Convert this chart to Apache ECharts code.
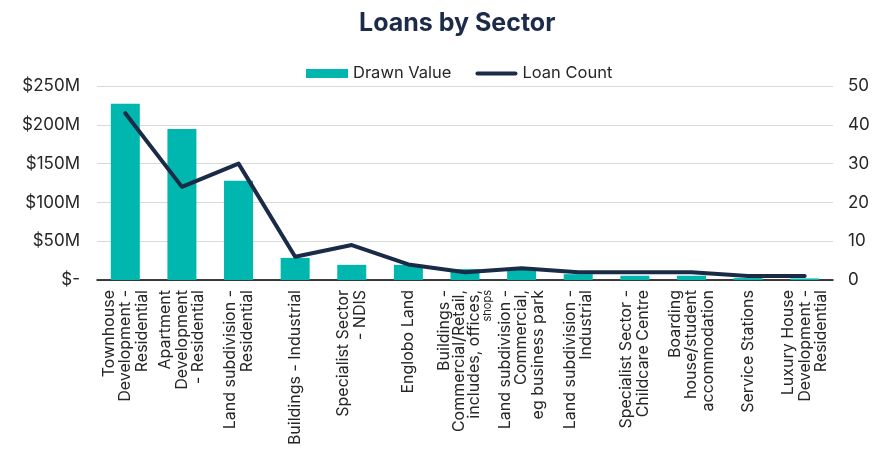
<!DOCTYPE html>
<html>
<head>
<meta charset="UTF-8">
<title>Loans by Sector</title>
<script src="https://cdn.jsdelivr.net/npm/echarts@6/dist/echarts.min.js"></script>
<style>
  html, body { margin: 0; padding: 0; background: #fff; }
  #chart { width: 886px; height: 451px; }
</style>
</head>
<body>
<div id="chart"></div>
<script>
// sector names (line breaks as in the source chart)
var sectors = [
  'Townhouse\nDevelopment -\nResidential',
  'Apartment\nDevelopment\n- Residential',
  'Land subdivision -\nResidential',
  'Buildings - Industrial',
  'Specialist Sector\n- NDIS',
  'Englobo Land',
  'Buildings -\nCommercial/Retail,\nincludes, offices,\nshops',
  'Land subdivision -\nCommercial,\neg business park',
  'Land subdivision -\nIndustrial',
  'Specialist Sector -\nChildcare Centre',
  'Boarding\nhouse/student\naccommodation',
  'Service Stations',
  'Luxury House\nDevelopment -\nResidential'
];
// drawn value, $ millions
var drawnValue = [227, 194.5, 128, 28.5, 19.5, 19.5, 14, 13, 7.5, 5.5, 5.5, 2.5, 2];
// number of loans
var loanCount = [43, 24, 30, 6, 9, 4, 2, 3, 2, 2, 2, 1, 1];

var leftTicks = { min: 0, max: 250, interval: 50 };
var rightTicks = { min: 0, max: 50, interval: 10 };

var FONT = 'Inter, Lato, sans-serif';
var TXT = '#262626';

var myChart = echarts.init(document.getElementById('chart'));
var option = {
  animation: false,
  title: {
    text: 'Loans by Sector',
    left: 354,
    top: 6,
    textStyle: { fontFamily: FONT, fontWeight: 'bold', fontSize: 25, color: '#1c2b4a' }
  },
  legend: {
    top: 60,
    left: 301,
    itemWidth: 42,
    itemHeight: 9,
    itemGap: 24,
    textStyle: { fontFamily: FONT, fontSize: 16.5, color: TXT },
    data: [
      { name: 'Drawn Value', icon: 'rect' },
      { name: 'Loan Count', icon: 'path://M2,0 L40,0 A2,2 0 0 1 40,4 L2,4 A2,2 0 0 1 2,0 Z' }
    ]
  },
  grid: { left: 97, right: 53, top: 86, bottom: 171 },
  xAxis: {
    type: 'category',
    data: sectors,
    axisLine: { lineStyle: { color: '#000', width: 1.5 } },
    axisTick: { show: false },
    axisLabel: {
      interval: 0,
      rotate: 90,
      margin: 10,
      fontFamily: FONT,
      fontSize: 16,
      lineHeight: 16.5,
      color: TXT,
      formatter: function (v) {
        if (v.indexOf('shops') >= 0) {
          return '{n|Buildings -}\n{n|Commercial/Retail,}\n{n|includes, offices,}\n{s|shops}';
        }
        return v;
      },
      rich: {
        n: { fontFamily: FONT, fontSize: 16, lineHeight: 15, color: TXT },
        s: { fontFamily: FONT, fontSize: 11, lineHeight: 11, color: TXT }
      }
    }
  },
  yAxis: [
    {
      type: 'value',
      min: leftTicks.min,
      max: leftTicks.max,
      interval: leftTicks.interval,
      axisLine: { show: false },
      axisTick: { show: false },
      splitLine: { lineStyle: { color: '#d9d9d9', width: 1 } },
      axisLabel: {
        margin: 17,
        fontFamily: FONT,
        fontSize: 17,
        color: TXT,
        formatter: function (v) { return v === 0 ? '$-' : '$' + v + 'M'; }
      }
    },
    {
      type: 'value',
      min: rightTicks.min,
      max: rightTicks.max,
      interval: rightTicks.interval,
      axisLine: { show: false },
      axisTick: { show: false },
      splitLine: { show: false },
      axisLabel: { margin: 15, fontFamily: FONT, fontSize: 17, color: TXT }
    }
  ],
  series: [
    {
      name: 'Drawn Value',
      type: 'bar',
      barWidth: 29,
      itemStyle: { color: '#00b7af' },
      data: drawnValue
    },
    {
      name: 'Loan Count',
      type: 'line',
      yAxisIndex: 1,
      symbol: 'none',
      lineStyle: { color: '#1a2b48', width: 4, cap: 'round', join: 'round' },
      itemStyle: { color: '#1a2b48' },
      data: loanCount
    }
  ]
};
myChart.setOption(option);
</script>
</body>
</html>
